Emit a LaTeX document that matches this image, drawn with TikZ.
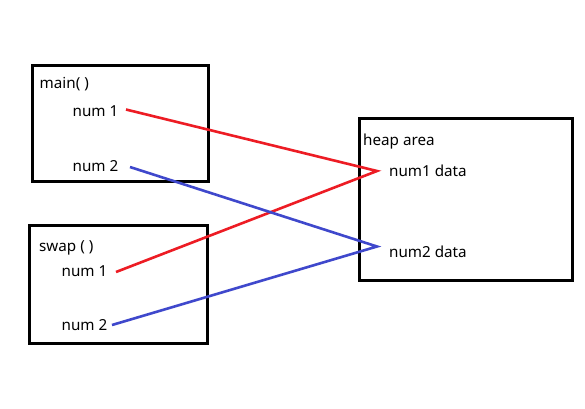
\documentclass[tikz,border=0pt]{standalone}
\usepackage{fontspec}
\setmainfont{Noto Sans}
\definecolor{pred}{HTML}{ED1C24}
\definecolor{pblue}{HTML}{3F48CC}
\begin{document}
\begin{tikzpicture}[x=1pt,y=-1pt,
  box/.style={draw=black,line width=3pt},
  lbl/.style={anchor=base west,inner sep=0pt,font=\fontsize{15.2}{17}\selectfont},
  redline/.style={draw=pred,line width=2.6pt},
  blueline/.style={draw=pblue,line width=2.6pt}]
\useasboundingbox (0,0) rectangle (585,408);
\fill[white] (0,0) rectangle (585,408);
% boxes
\draw[box] (32,65) rectangle (208,181);
\draw[box] (29,225) rectangle (207,343);
\draw[box] (359,118) rectangle (572,280);
% labels
\node[lbl] (mainT) at (39.5,88) {main( )};
\node[lbl] (mn1) at (72.5,116.5) {num 1};
\node[lbl] (mn2) at (72.5,171) {num 2};
\node[lbl] (swapT) at (39,251) {swap ( )};
\node[lbl] (sn1) at (61.5,276.5) {num 1};
\node[lbl] (sn2) at (61.5,330.5) {num 2};
\node[lbl] (heapT) at (363,145) {heap area};
\node[lbl] (d1) at (389,176.5) {num1 data};
\node[lbl] (d2) at (389,257.5) {num2 data};
% connector ends
\coordinate (a1) at (126,109.5);
\coordinate (a2) at (130,167);
\coordinate (b1) at (116,272);
\coordinate (b2) at (112,325);
\coordinate (t1) at (377,171);
\coordinate (t2) at (377,246.5);
\draw[redline] (a1) -- (t1) -- (b1);
\draw[blueline] (a2) -- (t2) -- (b2);
\end{tikzpicture}
\end{document}
